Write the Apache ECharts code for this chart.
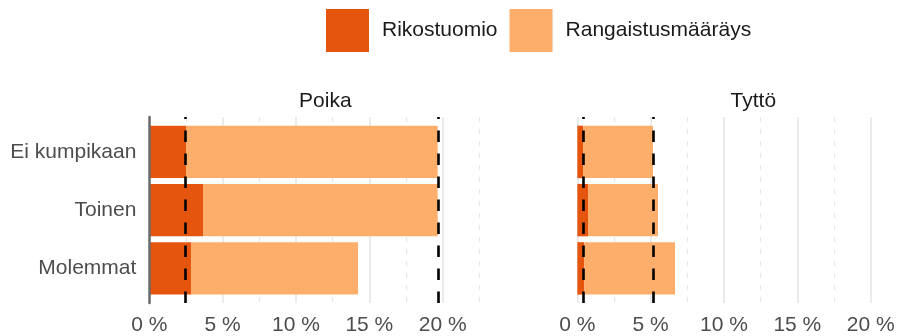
<!DOCTYPE html>
<html>
<head>
<meta charset="utf-8">
<script src="https://cdn.jsdelivr.net/npm/echarts@6/dist/echarts.min.js"></script>
<style>
  html, body { margin: 0; padding: 0; background: #ffffff; }
  #chart { width: 900px; height: 336px; }
</style>
</head>
<body>
<div id="chart"></div>
<script>
// Categories (top to bottom)
const categories = ['Ei kumpikaan', 'Toinen', 'Molemmat'];
const seriesNames = ['Rikostuomio', 'Rangaistusmääräys'];
const panelTitles = ['Poika', 'Tyttö'];

// Shares in percent, stacked: Rikostuomio + Rangaistusmääräys
const poikaRikostuomio = [2.50, 3.66, 2.84];
const poikaRangaistus = [17.16, 16.00, 11.39];
const tyttoRikostuomio = [0.39, 0.73, 0.46];
const tyttoRangaistus = [4.77, 4.77, 6.20];

// Dashed reference lines (panel averages)
const poikaRefLines = [2.43, 19.70];
const tyttoRefLines = [0.37, 5.18];

// Tick values for the x axes
const xTicks = [0, 5, 10, 15, 20];

const FONT = 'Liberation Sans, Arial, sans-serif';
const COLORS = ['#E6550D', '#FDAE6B'];

// Both panels share the same scale (14.67 px per percent); the right panel
// runs into the page edge, so its visible range ends a little earlier.
const PX_PER_PCT = 352 / 24;
const panelLeft = [149.33, 577.33];
const panelWidth = [352, 900 - 577.33];
const panelMax = [24, (900 - 577.33) / PX_PER_PCT];
const titleCenter = [149.33 + 176, 577.33 + 176];
const frameTop = 117, frameHeight = 186.33;
const barTop = 122.8, barHeight = 174.7;

const chart = echarts.init(document.getElementById('chart'), null, { renderer: 'canvas' });

const grids = [];
const xAxes = [];
const yAxes = [];
panelLeft.forEach(function (left, p) {
  // frame grid: gridlines, tick labels, reference lines
  grids.push({ left: left, top: frameTop, width: panelWidth[p], height: frameHeight });
  // bar grid: categorical bands
  grids.push({ left: left, top: barTop, width: panelWidth[p], height: barHeight });

  xAxes.push({
    type: 'value', gridIndex: 2 * p, min: 0, max: panelMax[p], interval: 5, z: 0,
    axisLine: { show: false }, axisTick: { show: false },
    axisLabel: {
      show: true, margin: 12, color: '#4d4d4d', fontFamily: FONT, fontSize: 21,
      showMaxLabel: false,
      formatter: function (v) { return xTicks.indexOf(v) >= 0 ? v + ' %' : ''; }
    },
    splitLine: { show: true, showMaxLine: false, lineStyle: { color: '#ebebeb', width: 2 } },
    minorTick: { show: false, splitNumber: 2 },
    minorSplitLine: { show: true, lineStyle: { color: '#e8e8e8', width: 1.3, type: [5, 7] } }
  });
  xAxes.push({
    type: 'value', gridIndex: 2 * p + 1, min: 0, max: panelMax[p], show: false
  });

  yAxes.push({
    type: 'value', gridIndex: 2 * p, min: 0.4, max: 3.6, z: 5,
    axisLine: { show: p === 0, lineStyle: { color: '#6b6b6b', width: 2.5 } },
    axisTick: { show: false }, axisLabel: { show: false }, splitLine: { show: false }
  });
  yAxes.push({
    type: 'category', gridIndex: 2 * p + 1, data: categories, inverse: true,
    axisLine: { show: false }, axisTick: { show: false }, splitLine: { show: false },
    axisLabel: {
      show: p === 0, margin: 13, color: '#4d4d4d', fontFamily: FONT, fontSize: 21
    }
  });
});

function barSeries(name, data, p, color) {
  return {
    name: name, type: 'bar', stack: 'panel' + p,
    xAxisIndex: 2 * p + 1, yAxisIndex: 2 * p + 1,
    data: data, barWidth: '90%', itemStyle: { color: color },
    z: 2, silent: true
  };
}

function refSeries(values, p) {
  return {
    name: 'viite' + p, type: 'line', xAxisIndex: 2 * p, yAxisIndex: 2 * p,
    data: [], z: 6, silent: true,
    markLine: {
      silent: true, symbol: ['none', 'none'], animation: false,
      label: { show: false },
      lineStyle: { color: '#000000', width: 2.6, type: [11.5, 11.5], cap: 'butt' },
      emphasis: { disabled: true },
      data: values.map(function (v) { return { xAxis: v }; })
    }
  };
}

const option = {
  animation: false,
  backgroundColor: '#ffffff',
  textStyle: { fontFamily: FONT },
  legend: {
    data: seriesNames, left: 326, top: 9, padding: 0, itemGap: 12,
    itemWidth: 43, itemHeight: 43, icon: 'rect', selectedMode: false,
    textStyle: { color: '#1a1a1a', fontFamily: FONT, fontSize: 21, padding: [0, 0, 0, 8] }
  },
  graphic: panelTitles.map(function (t, p) {
    return {
      type: 'text', x: titleCenter[p], y: 101,
      style: {
        text: t, fill: '#1a1a1a', font: '21px ' + FONT,
        textAlign: 'center', textVerticalAlign: 'middle'
      }
    };
  }),
  grid: grids,
  xAxis: xAxes,
  yAxis: yAxes,
  series: [
    barSeries(seriesNames[0], poikaRikostuomio, 0, COLORS[0]),
    barSeries(seriesNames[1], poikaRangaistus, 0, COLORS[1]),
    barSeries(seriesNames[0], tyttoRikostuomio, 1, COLORS[0]),
    barSeries(seriesNames[1], tyttoRangaistus, 1, COLORS[1]),
    refSeries(poikaRefLines, 0),
    refSeries(tyttoRefLines, 1)
  ]
};

chart.setOption(option);
</script>
</body>
</html>
